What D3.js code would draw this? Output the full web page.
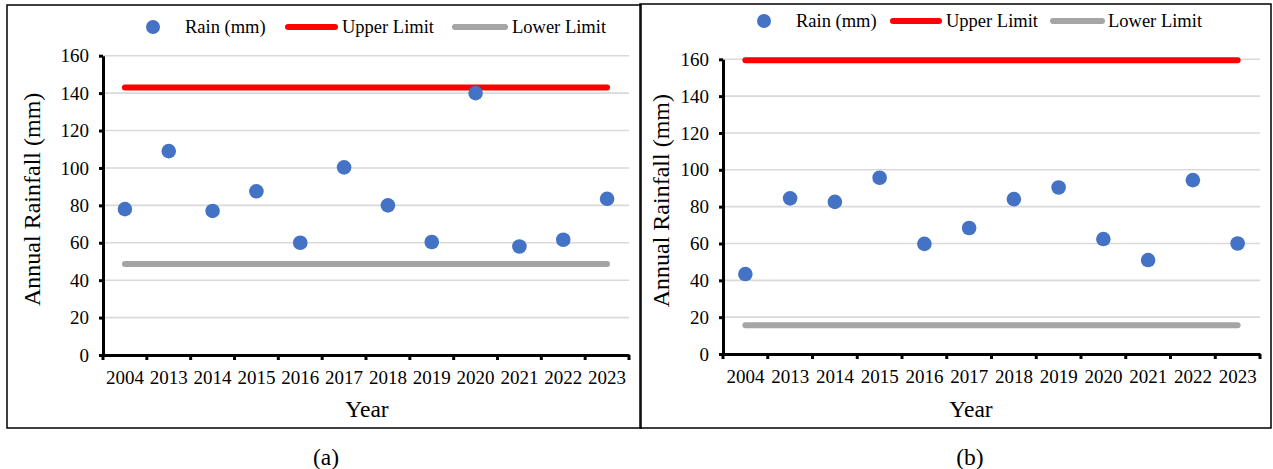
<!DOCTYPE html>
<html>
<head>
<meta charset="utf-8">
<script src="https://cdn.jsdelivr.net/npm/d3@7"></script>
<style>
  html, body { margin: 0; padding: 0; background: #fff; }
  svg { display: block; }
</style>
</head>
<body>
<svg id="chart" width="1273" height="469"></svg>
<script>
// Years on the category axis
const years = ["2004", "2013", "2014", "2015", "2016", "2017", "2018", "2019", "2020", "2021", "2022", "2023"];

// Annual rainfall (mm), station (a)
const rainA = [78, 109, 77, 87.5, 60, 100.3, 80, 60.4, 140, 58, 61.6, 83.5];
const upperA = 143;
const lowerA = 48.6;

// Annual rainfall (mm), station (b)
const rainB = [43.4, 84.5, 82.6, 95.7, 59.8, 68.4, 84.1, 90.4, 62.4, 51, 94.4, 60];
const upperB = 159.5;
const lowerB = 15.6;

// Value-axis ticks
const yTicks = [0, 20, 40, 60, 80, 100, 120, 140, 160];

// Legend entries
const seriesNames = ["Rain (mm)", "Upper Limit", "Lower Limit"];

const COLORS = { rain: "#4472C4", upper: "#FF0000", lower: "#A5A5A5", grid: "#D9D9D9" };
const FONT = "Liberation Serif";

const svg = d3.select("#chart").style("font-family", FONT);

const panels = [
  {
    caption: "(a)", rain: rainA, upper: upperA, lower: lowerA,
    box: { x0: 7, y0: 5, x1: 641, y1: 428 },
    plot: { x0: 103, x1: 629, y0: 355, y1: 55.7 },
    legend: { y: 27, dot: 153, text1: 185, line1: [285, 338], text2: 342, line2: [452, 508], text3: 512 },
    yTitleX: 32, xTitleX: 367, captionX: 326
  },
  {
    caption: "(b)", rain: rainB, upper: upperB, lower: lowerB,
    box: { x0: 640, y0: 4, x1: 1271, y1: 428 },
    plot: { x0: 723, x1: 1260, y0: 354, y1: 59.3 },
    legend: { y: 21, dot: 764, text1: 796, line1: [890, 942], text2: 946, line2: [1050, 1105], text3: 1108 },
    yTitleX: 661, xTitleX: 971, captionX: 970
  }
];

function label(sel, size) {
  return sel.style("font-family", FONT).attr("font-size", size).attr("fill", "#000");
}

function drawPanel(p) {
  const g = svg.append("g");

  // Panel frame
  g.append("rect")
    .attr("x", p.box.x0).attr("y", p.box.y0)
    .attr("width", p.box.x1 - p.box.x0).attr("height", p.box.y1 - p.box.y0)
    .attr("fill", "none").attr("stroke", "#000").attr("stroke-width", 1.5);

  const x = d3.scaleBand().domain(years).range([p.plot.x0, p.plot.x1]);
  const y = d3.scaleLinear().domain([0, 160]).range([p.plot.y0, p.plot.y1]);

  // Horizontal gridlines
  g.append("g").selectAll("line").data(yTicks.filter(d => d > 0)).join("line")
    .attr("x1", p.plot.x0).attr("x2", p.plot.x1)
    .attr("y1", d => y(d)).attr("y2", d => y(d))
    .attr("stroke", COLORS.grid).attr("stroke-width", 1.6);

  // Value axis
  const yAxis = g.append("g")
    .attr("transform", `translate(${p.plot.x0},0)`)
    .call(d3.axisLeft(y).tickValues(yTicks).tickSize(4).tickPadding(10).tickSizeOuter(0));
  yAxis.attr("font-family", null);
  yAxis.select(".domain").attr("stroke", "#000").attr("stroke-width", 3);
  yAxis.selectAll(".tick line").attr("stroke", "#000").attr("stroke-width", 3);
  label(yAxis.selectAll(".tick text"), 19);

  // Category axis with ticks at band boundaries
  const xAxis = g.append("g")
    .attr("transform", `translate(0,${p.plot.y0})`)
    .call(d3.axisBottom(x).tickSize(0).tickPadding(16));
  xAxis.attr("font-family", null);
  xAxis.select(".domain").attr("stroke", "#000").attr("stroke-width", 3);
  label(xAxis.selectAll(".tick text"), 19);
  const bounds = years.map(d => x(d)).concat([x(years[years.length - 1]) + x.bandwidth()]);
  xAxis.append("g").selectAll("line").data(bounds).join("line")
    .attr("x1", d => d).attr("x2", d => d)
    .attr("y1", 0).attr("y2", 5)
    .attr("stroke", "#000").attr("stroke-width", 3);

  const cx = d => x(d) + x.bandwidth() / 2;

  // Limit lines across all years
  const limitLine = v => d3.line().x(d => cx(d)).y(() => y(v))(years);
  g.append("path").attr("d", limitLine(p.upper))
    .attr("fill", "none").attr("stroke", COLORS.upper).attr("stroke-width", 6).attr("stroke-linecap", "round");
  g.append("path").attr("d", limitLine(p.lower))
    .attr("fill", "none").attr("stroke", COLORS.lower).attr("stroke-width", 6).attr("stroke-linecap", "round");

  // Rainfall points
  g.append("g").selectAll("circle").data(years.map((yr, i) => ({ yr, v: p.rain[i] }))).join("circle")
    .attr("cx", d => cx(d.yr)).attr("cy", d => y(d.v))
    .attr("r", 7.3).attr("fill", COLORS.rain);

  // Legend
  const L = p.legend;
  g.append("circle").attr("cx", L.dot).attr("cy", L.y).attr("r", 7).attr("fill", COLORS.rain);
  g.append("line").attr("x1", L.line1[0] + 3).attr("x2", L.line1[1] - 3).attr("y1", L.y).attr("y2", L.y)
    .attr("stroke", COLORS.upper).attr("stroke-width", 6).attr("stroke-linecap", "round");
  g.append("line").attr("x1", L.line2[0] + 3).attr("x2", L.line2[1] - 3).attr("y1", L.y).attr("y2", L.y)
    .attr("stroke", COLORS.lower).attr("stroke-width", 6).attr("stroke-linecap", "round");
  [L.text1, L.text2, L.text3].forEach((tx, i) => {
    label(g.append("text"), 18.5).attr("x", tx).attr("y", L.y).attr("dy", "0.35em").text(seriesNames[i]);
  });

  // Axis titles
  label(g.append("text"), 24)
    .attr("transform", `translate(${p.yTitleX},${(p.plot.y0 + p.plot.y1) / 2 - 6}) rotate(-90)`)
    .attr("text-anchor", "middle").attr("dy", "0.35em")
    .text("Annual Rainfall (mm)");
  label(g.append("text"), 23.5)
    .attr("x", p.xTitleX).attr("y", 417)
    .attr("text-anchor", "middle").text("Year");

  // Panel caption
  label(g.append("text"), 23.5)
    .attr("x", p.captionX).attr("y", 465)
    .attr("text-anchor", "middle").text(p.caption);
}

panels.forEach(drawPanel);
</script>
</body>
</html>
